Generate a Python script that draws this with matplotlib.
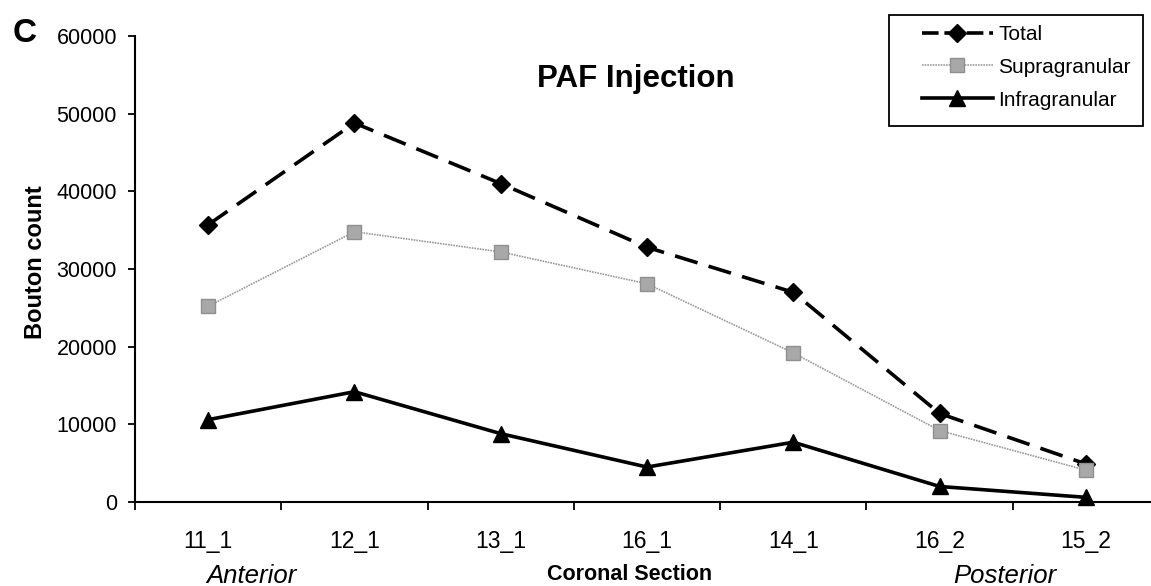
import matplotlib
matplotlib.use("Agg")
import matplotlib.pyplot as plt
from matplotlib.patches import Rectangle
from matplotlib.lines import Line2D
import numpy as np

plt.rcParams['font.family'] = ['Liberation Sans', 'DejaVu Sans']

sections = ["11_1", "12_1", "13_1", "16_1", "14_1", "16_2", "15_2"]
total = [35700, 48800, 41000, 32800, 27000, 11400, 4900]
supra = [25200, 34800, 32200, 28100, 19200, 9200, 4100]
infra = [10600, 14200, 8800, 4500, 7700, 2000, 600]
yticks = [0, 10000, 20000, 30000, 40000, 50000, 60000]

W, H = 1151, 586
fig = plt.figure(figsize=(W/100, H/100), dpi=100)
x0, x1 = 135, 1159
y0, y1 = 502, 36
ax = fig.add_axes([x0/W, 1 - y0/H, (x1-x0)/W, (y0-y1)/H])

x = np.arange(len(sections))
l1, = ax.plot(x, total, color='black', lw=2.6, dashes=(6.5, 3.2), marker='D', ms=9,
              mfc='black', mec='black', label='Total', clip_on=False)
l2, = ax.plot(x, supra, color='#9a9a9a', lw=1.2, ls=(0, (1, 0.6)), marker='s', ms=10.5,
              mfc='#a8a8a8', mec='#8f8f8f', label='Supragranular', clip_on=False)
l3, = ax.plot(x, infra, color='black', lw=2.6, marker='^', ms=11,
              mfc='black', mec='black', label='Infragranular', clip_on=False)

ax.set_xlim(-0.5, len(sections) - 0.5)
ax.set_ylim(0, 60000)
ax.set_yticks(yticks)
ax.set_yticklabels([str(v) for v in yticks], fontsize=15.5)
ax.set_xticks(np.arange(len(sections) + 1) - 0.5)
ax.set_xticklabels([])
ax.set_xticks(x, minor=True)
ax.set_xticklabels(sections, minor=True, fontsize=16.5)
ax.tick_params(axis='x', which='minor', length=0, pad=20)
ax.tick_params(axis='x', which='major', direction='out', length=5.5, width=1.3)
ax.tick_params(axis='y', direction='out', length=5, width=1.3, pad=8)
for s in ['top', 'right']:
    ax.spines[s].set_visible(False)
ax.spines['left'].set_linewidth(1.5)
ax.spines['bottom'].set_linewidth(1.5)

fig.text(36/W, 1 - 262/H, 'Bouton count', fontsize=17, fontweight='bold',
         rotation=90, ha='center', va='center')
fig.text(636/W, 1 - 79/H, 'PAF Injection', fontsize=22.5, fontweight='bold', ha='center', va='center')
fig.text(25/W, 1 - 33/H, 'C', fontsize=24, fontweight='bold', ha='center', va='center')
fig.text(251/W, 1 - 576/H, 'Anterior', fontsize=18.5, style='italic', ha='center', va='center')
fig.text(630/W, 1 - 574/H, 'Coronal Section', fontsize=15.5, fontweight='bold', ha='center', va='center')
fig.text(1005/W, 1 - 576/H, 'Posterior', fontsize=18.5, style='italic', ha='center', va='center')

fig.patches.append(Rectangle((889/W, 1 - 126/H), (1143-889)/W, (126-15)/H,
                             transform=fig.transFigure, fill=False, edgecolor='black',
                             linewidth=1.3))
h1 = Line2D([], [], color='black', lw=2.6, dashes=(4.6, 1.6), dash_capstyle='butt',
            marker='D', ms=9, mfc='black', mec='black', label='Total')
leg = fig.legend(handles=[h1, l2, l3], loc='upper left',
                 bbox_to_anchor=(922/W, 1 - 25/H), fontsize=15, frameon=False,
                 handlelength=3.4, handletextpad=0.25,
                 borderpad=0, labelspacing=0.66, borderaxespad=0)

fig.savefig('out.png', dpi=100)
